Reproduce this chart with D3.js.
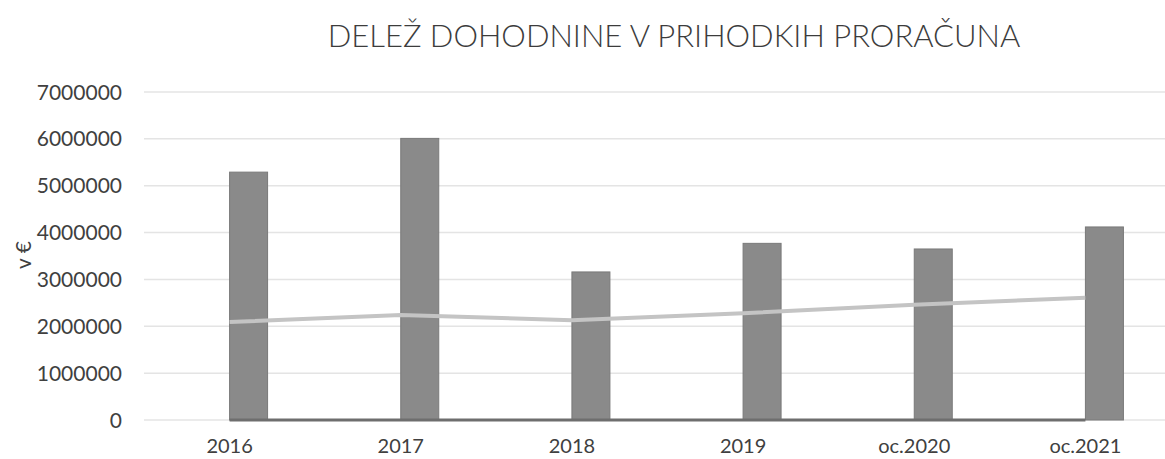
<!DOCTYPE html>
<html>
<head>
<meta charset="utf-8">
<script src="https://cdn.jsdelivr.net/npm/d3@7"></script>
<style>
  html, body { margin: 0; padding: 0; background: #fff; }
  svg { display: block; font-family: Lato, 'Open Sans', sans-serif; }
</style>
</head>
<body>
<div id="chart"></div>
<script>
// ── Data ────────────────────────────────────────────
const categories = ['2016', '2017', '2018', '2019', 'oc.2020', 'oc.2021'];
const prihodki = [5290000, 6010000, 3160000, 3770000, 3650000, 4120000];
const dohodnina = [2090000, 2240000, 2130000, 2280000, 2460000, 2610000];
const delez = [40, 37, 67, 60, 67, 63];
const yTicks = [0, 1000000, 2000000, 3000000, 4000000, 5000000, 6000000, 7000000];

const W = 1165, H = 459;
const M = { top: 92, right: -6, bottom: 39, left: 144 };
const iW = W - M.left - M.right, iH = H - M.top - M.bottom;

const svg = d3.select('#chart').append('svg')
     .attr('width', W).attr('height', H)
     .attr('viewBox', `0 0 ${W} ${H}`);

const x = d3.scaleBand().domain(categories).range([0, iW]);
const y = d3.scaleLinear().domain([0, 7000000]).range([iH, 0]);
const barW = 38;
const cx = c => x(c) + x.bandwidth() / 2;

// title
svg.append('text')
     .attr('x', 674).attr('y', 47)
     .attr('text-anchor', 'middle')
     .attr('font-size', '31px').attr('font-weight', 300).attr('fill', '#3c3c3c')
     .text('DELEŽ DOHODNINE V PRIHODKIH PRORAČUNA');

// axis title
svg.append('text')
     .attr('transform', 'translate(31,255) rotate(-90)')
     .attr('text-anchor', 'middle')
     .attr('font-size', '21px').attr('fill', '#404040')
     .text('v €');

const g = svg.append('g').attr('transform', `translate(${M.left},${M.top})`);

// gridlines
g.selectAll('.grid')
     .data(yTicks)
     .join('line')
     .attr('x1', 0).attr('x2', iW)
     .attr('y1', d => y(d)).attr('y2', d => y(d))
     .attr('stroke', '#e4e4e4').attr('stroke-width', 1.5);

// y tick labels
g.selectAll('.ytick')
     .data(yTicks)
     .join('text')
     .attr('x', -22)
     .attr('y', d => y(d))
     .attr('dy', '0.36em')
     .attr('text-anchor', 'end')
     .attr('font-size', '21px').attr('fill', '#404040')
     .text(d => d);

// bars
g.selectAll('.bar')
     .data(categories)
     .join('rect')
     .attr('x', d => cx(d))
     .attr('width', barW)
     .attr('y', (d, i) => y(prihodki[i]))
     .attr('height', (d, i) => y(0) - y(prihodki[i]))
     .attr('fill', '#8a8a8a')
     .attr('stroke', '#7a7a7a').attr('stroke-width', 1);

// lines
const line = d3.line().x(d => cx(d.c)).y(d => y(d.v));
g.append('path')
     .datum(categories.map((c, i) => ({ c, v: dohodnina[i] })))
     .attr('d', line)
     .attr('fill', 'none').attr('stroke', '#c4c4c4').attr('stroke-width', 4);
g.append('path')
     .datum(categories.map((c, i) => ({ c, v: delez[i] })))
     .attr('d', line)
     .attr('fill', 'none').attr('stroke', '#6e6e6e').attr('stroke-width', 3);

// x labels
g.selectAll('.xtick')
     .data(categories)
     .join('text')
     .attr('x', d => cx(d))
     .attr('y', iH + 33)
     .attr('text-anchor', 'middle')
     .attr('font-size', '20px').attr('fill', '#404040')
     .text(d => d);
</script>
</body>
</html>
